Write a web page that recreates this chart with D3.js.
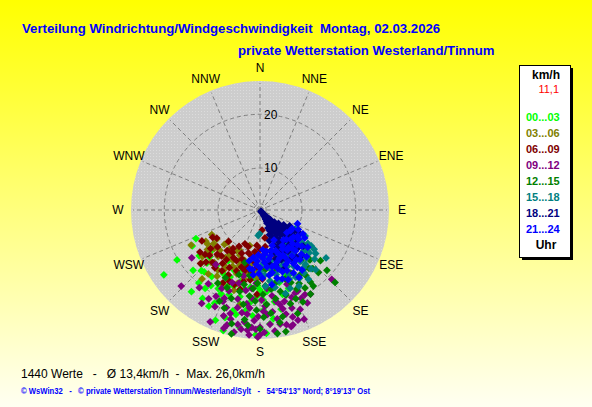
<!DOCTYPE html>
<html>
<head>
<meta charset="utf-8">
<script src="https://cdn.jsdelivr.net/npm/d3@7"></script>
<style>
body { margin: 0; overflow: hidden; background: #ffffff; }
svg { display: block; }
text { font-family: "Liberation Sans", Arial, sans-serif; }
</style>
</head>
<body>
<svg id="chart" width="592" height="407"></svg>
<script>
// # wind direction / wind speed scatter (polar)
// each point is [direction in degrees, speed in km/h], grouped by 3 hour slot

var dir_labels = ["N","NNE","NE","ENE","E","ESE","SE","SSE","S","SSW","SW","WSW","W","WNW","NW","NNW"];
var ring_values = [2, 10, 20];
var ring_labels = ["", "10", "20"];
var slot_labels = ["00...03","03...06","06...09","09...12","12...15","15...18","18...21","21...24"];
var slot_colors = ["#00ff00","#808000","#800000","#800080","#008000","#008080","#000080","#0000ff"];

var slot_00_03 = [[246,15.4],[242,16.6],[239,20.2],[236,23.5],[227,15.2],[224,18.0],[220,19.9],[216,17.6],[225,16.3],[220,21.9],
  [213,21.7],[206,21.4],[205,19.4],[193,22.0],[192,20.1],[191,17.4],[182,16.4],[197,25.2],[182,18.3],[175,23.2],
  [177,24.8],[165,18.5],[160,17.8],[182,25.0],[173,22.4],[208,22.3],[203,14.6],[191,12.3],[172,15.7],[203,17.7],
  [159,15.5],[171,19.5],[185,15.0],[195,16.0],[178,19.0],[168,21.0],[200,19.0],[210,16.0],[215,20.0],[188,21.0],
  [198,23.0],[230,14.0],[186,19.5],[175,17.5],[212,13.5],[196,14.0],
  [180,17.2],[187,16.8],[193,18.8],[199,17.3],[204,16.0],[208,18.8],[213,19.0],[218,15.5],[222,17.8],[228,19.0],
  [233,16.5],[188,14.0],[179,14.5],[170,17.0],[165,16.3],[184,21.8],[195,21.5],[202,24.0],[190,24.0],[178,20.8]];
var slot_03_06 = [[243,12.4],[243,16.7],[231,16.1],[233,14.6],[225,12.9],[214,12.5],[207,10.6],[213,14.6],[203,14.2],[197,12.1],
  [221,15.3],[213,17.0],[192,20.3],[196,9.0],[225,10.7],[197,16.6],[185,13.7],[218,11.5],[208,13.0],[200,15.0],
  [230,13.5],[237,14.0],[215,16.0],[222,14.0],[205,16.5],[190,14.5],[210,11.0],[228,17.0],[198,18.0],[186,11.0],
  [220,19.0],[236,12.0],[202,12.5],
  [195,13.5],[200,13.3],[206,14.0],[211,15.3],[216,13.3],[223,15.7],[229,14.8],[234,13.0],[240,14.0],[219,17.6],
  [207,17.8],[193,15.5],[189,12.5],[204,11.5],[212,12.3],[226,11.5],[182,15.0]];
var slot_06_09 = [[242,14.6],[237,11.9],[229,12.8],[204,9.0],[198,9.3],[213,11.7],[228,17.2],[212,15.7],[205,12.7],[174,5.4],
  [185,8.7],[170,7.2],[194,14.0],[203,16.8],[186,12.1],[194,17.5],[178,15.2],[162,11.2],[228,15.0],[220,13.5],
  [215,11.0],[208,14.5],[200,12.0],[190,11.0],[195,10.5],[218,16.0],[232,14.0],[188,15.5],[178,11.0],[172,9.0],
  [165,13.5],[225,10.5],[240,12.5],[182,18.0],[210,10.0],[198,13.5],[222,15.5],[235,16.0],[207,17.5],
  [196,12.5],[203,11.0],[209,12.5],[214,13.5],[219,12.0],[224,13.8],[231,15.5],[206,15.8],[201,14.5],[192,13.2],
  [188,14.0],[183,13.0],[180,9.5],[175,12.5],[168,11.8],[187,10.0],[193,16.0],[199,17.0],[215,14.5],[226,16.3]];
var slot_09_12 = [[226,22.4],[235,17.8],[210,21.2],[205,21.9],[196,22.1],[195,23.0],[191,23.6],[189,24.3],[186,24.3],[185,25.1],
  [181,25.4],[204,24.6],[196,24.1],[187,21.6],[202,20.5],[194,19.3],[201,18.4],[185,18.8],[181,21.9],[180,23.7],
  [176,21.6],[173,21.2],[167,21.0],[166,22.0],[167,23.8],[164,24.1],[163,22.8],[165,19.8],[157,19.0],[153,21.5],
  [152,20.0],[155,18.9],[172,18.4],[177,20.1],[170,23.5],[173,24.5],[180,25.0],[182,24.1],[165,24.3],[161,23.6],
  [158,23.8],[149,20.4],[134,20.7],[202,19.9],[207,20.2],[219,15.4],[190,17.5],[175,17.0],[183,16.0],[196,16.5],
  [188,19.8],[170,19.5],[160,17.0],[199,22.8],[215,19.0],
  [168,20.2],[171,22.5],[175,23.3],[178,21.0],[183,22.6],[186,20.5],[190,21.5],[193,20.8],[199,21.3],[197,24.8],
  [192,25.0],[188,23.0],[184,23.8],[178,24.6],[162,21.3],[158,22.0],[155,20.3],[179,19.0],[186,17.0],[194,15.0],
  [201,16.8],[206,18.5],[212,22.5],[218,20.5],[160,19.5]];
var slot_12_15 = [[128,13.2],[140,16.5],[149,20.4],[158,20.0],[168,24.9],[193,25.4],[194,23.7],[172,25.0],[134,21.5],[189,14.7],
  [176,16.5],[166,17.9],[194,17.9],[183,19.2],[154,15.4],[141,14.5],[204,20.7],[174,21.4],[188,22.6],[145,18.6],
  [135,15.5],[130,17.0],[145,19.5],[160,22.5],[170,19.0],[178,22.0],[185,17.0],[198,15.0],[210,18.0],[150,12.5],
  [165,14.0],[175,13.5],[160,16.0],[180,24.0],[200,21.5],[132,19.0],[129,12.9],[131,14.0],[135,15.2],[138,17.0],
  [145,17.2],[155,18.5],[170,23.2],[190,20.0],[182,16.0],[207,16.5],[196,12.5],
  [137,18.2],[142,16.0],[148,16.5],[152,17.8],[157,17.0],[163,18.8],[168,16.2],[172,17.2],[178,18.0],[182,20.8],
  [187,18.4],[192,16.5],[198,19.5],[203,18.0],[176,19.8],[162,20.5],[155,21.0],[186,23.5],[168,22.3],[150,19.0]];
var slot_15_18 = [[127,8.4],[118,9.6],[125,14.0],[126,14.8],[133,13.5],[126,17.5],[184,6.6],[174,10.9],[156,15.5],[152,16.5],
  [158,13.5],[181,6.2],[125,13.2],[138,13.7],[139,16.8],[145,16.6],[159,17.9],[172,15.7],[130,11.0],[135,12.0],
  [142,14.5],[148,13.0],[150,11.5],[145,10.0],[155,12.5],[162,14.0],[165,16.0],[168,12.0],[140,15.5],[132,16.0],
  [120,12.0],[138,10.5],[160,11.0],[150,17.0],[170,13.5],[178,12.5],[128,15.5],[145,18.0],[176,14.5],[163,18.5],
  [133,10.5],[128,12.3],[136,14.8],[143,15.8],[149,14.6],[154,14.0],[157,16.3],[161,12.6],[166,14.7],[169,17.0],
  [174,12.8],[143,12.5],[137,17.5],[131,14.5],[122,10.8],[153,18.2],[180,13.8],[185,11.5],[176,16.6],[147,11.8]];
var slot_18_21 = [[140,0.6],[143,1.2],[138,1.8],[146,2.2],[141,2.6],[136,3.0],[149,3.2],[143,3.6],[133,4.0],[152,4.2],
  [139,4.5],[146,4.9],[130,5.1],[156,5.3],[141,5.6],[126,6.0],[149,6.2],[135,6.6],[159,6.8],[122,7.1],
  [144,7.3],[129,7.6],[153,7.8],[163,8.0],[118,8.3],[137,8.5],[147,8.8],[124,9.1],[158,9.3],[132,9.6],
  [151,9.9],[166,10.1],[120,10.4],[141,10.7],[156,10.9],[128,11.2],[146,11.6],[162,11.9],[135,12.3],[152,12.8],
  [142,13.4],[170,12.5],[158,14.2],[131,8.0],[155,6.0],[145,3.0],[137,6.8],[150,9.0],[127,10.0],[140,8.0],
  [139,1.0],[144,1.6],[141,2.0],[137,2.4],[147,2.8],[140,3.3],[134,3.5],[150,3.8],[142,4.2],[136,4.7],
  [148,5.0],[133,5.5],[144,5.9],[152,5.6],[128,6.4],[140,6.3],[146,6.9],[131,7.0],[156,7.2],[125,7.8],
  [140,7.6],[149,8.2],[134,8.9],[121,9.5],[143,9.4],[155,9.8],[136,10.2],[161,10.6],[124,10.8],[148,10.4],
  [133,11.4],[152,11.3],[139,11.8],[157,12.4],[130,12.8],[147,13.1],[164,13.0],[137,13.8]];
var slot_21_24 = [[110,9.6],[117,10.2],[124,9.0],[127,11.3],[131,12.6],[134,10.1],[137,13.6],[140,11.5],[142,9.2],[145,12.7],
  [148,14.1],[150,10.6],[152,12.2],[155,13.6],[157,11.1],[160,14.6],[162,12.5],[164,10.1],[166,15.4],[168,13.1],
  [170,11.6],[172,14.6],[175,12.1],[178,15.0],[180,13.1],[184,12.5],[188,11.2],[176,9.6],[161,9.1],[152,15.6],
  [145,16.0],[135,14.6],[128,13.6],[122,12.1],[130,8.6],[155,8.2],[171,16.4],[182,10.6],[190,13.4],[148,10.0],
  [158,12.0],[165,13.0],[143,11.0],[138,9.5],[174,10.5],[186,14.5],
  [133,11.8],[139,12.4],[146,11.3],[151,13.2],[156,14.7],[163,13.8],[169,14.2],[173,13.0],[177,11.2],[181,14.2],
  [159,10.3],[153,11.7],[147,15.1],[141,14.2],[136,11.0],[129,10.2],[125,10.8],[119,11.4],[162,15.8],[167,11.0],
  [183,11.8],[187,13.5],[158,16.3],[150,16.8],[192,12.0],[171,10.0],[144,13.8],[120,9.0]];
var slots = [slot_00_03, slot_03_06, slot_06_09, slot_09_12, slot_12_15, slot_15_18, slot_18_21, slot_21_24];

var title_text = "Verteilung Windrichtung/Windgeschwindigkeit  Montag, 02.03.2026";
var subtitle_text = "private Wetterstation Westerland/Tinnum";
var stats_text = "1440 Werte   -   \u00d8 13,4km/h  -  Max. 26,0km/h";
var footer_text = "\u00a9 WsWin32   -   \u00a9 private Wetterstation Tinnum/Westerland/Sylt   -   54\u00b054'13\" Nord; 8\u00b019'13\" Ost";
var legend_value = "11,1";

// geometry of the rose
var cx = 260, cy = 210, outer_r = 129, label_r = 142;

var angle = d3.scaleLinear().domain([0, 360]).range([0, 2 * Math.PI]);
var radius = d3.scalePow().exponent(1.19).domain([0, 25.7]).range([0, outer_r]);

function px(dir, r){ return cx + r * Math.sin(angle(dir)); }
function py(dir, r){ return cy - r * Math.cos(angle(dir)); }

var svg = d3.select("#chart");
var defs = svg.append("defs");

// yellow background fading to white
var grad = defs.append("linearGradient").attr("id", "bg_grad")
  .attr("x1", 0).attr("y1", 0).attr("x2", 0).attr("y2", 1);
grad.append("stop").attr("offset", 0).attr("stop-color", "#ffff00");
grad.append("stop").attr("offset", 1).attr("stop-color", "#fffff2");

// dotted grey of the rose
var pat = defs.append("pattern").attr("id", "dots").attr("patternUnits", "userSpaceOnUse")
  .attr("width", 3).attr("height", 3);
pat.append("rect").attr("width", 3).attr("height", 3).attr("fill", "#cdcdcd");
pat.append("rect").attr("width", 1).attr("height", 1).attr("fill", "#dcdcdc");

svg.append("rect").attr("width", 592).attr("height", 407).attr("fill", "url(#bg_grad)");

// titles
svg.append("text").attr("x", 22).attr("y", 33)
  .attr("fill", "#0000ff").attr("font-weight", "bold").attr("font-size", 13.2)
  .attr("xml:space", "preserve").text(title_text);
svg.append("text").attr("x", 238).attr("y", 55)
  .attr("fill", "#0000ff").attr("font-weight", "bold").attr("font-size", 13.2)
  .text(subtitle_text);

// ### rose background, rings and spokes
var rose = svg.append("g");
rose.append("circle").attr("cx", cx).attr("cy", cy).attr("r", outer_r).attr("fill", "url(#dots)");

rose.selectAll(".ring").data(ring_values).enter().append("circle")
  .attr("class", "ring")
  .attr("cx", cx).attr("cy", cy)
  .attr("r", function(d){ return radius(d); })
  .attr("fill", "none").attr("stroke", "#7f7f7f").attr("stroke-dasharray", "4,3");

rose.selectAll(".spoke").data(dir_labels).enter().append("line")
  .attr("class", "spoke")
  .attr("x1", cx).attr("y1", cy)
  .attr("x2", function(d, i){ return px(i * 22.5, outer_r - 2); })
  .attr("y2", function(d, i){ return py(i * 22.5, outer_r - 2); })
  .attr("stroke", "#7f7f7f").attr("stroke-dasharray", "4,3");

rose.selectAll(".dir_label").data(dir_labels).enter().append("text")
  .attr("class", "dir_label")
  .attr("x", function(d, i){ return px(i * 22.5, label_r); })
  .attr("y", function(d, i){ return py(i * 22.5, label_r); })
  .attr("text-anchor", "middle").attr("dy", "0.36em")
  .attr("font-size", 12).attr("fill", "#000")
  .text(function(d){ return d; });

// ### the points, one layer per time slot
var diamond = d3.symbol().type(d3.symbolSquare).size(30);
slots.forEach(function(slot, k){
  svg.append("g").selectAll("path").data(slot).enter().append("path")
    .attr("d", diamond)
    .attr("transform", function(d){
      var r = radius(d[1]);
      return "translate(" + px(d[0], r) + "," + py(d[0], r) + ") rotate(45)";
    })
    .attr("fill", slot_colors[k]);
});

// ring labels on top of the points
rose.selectAll(".ring_label").data(ring_values).enter().append("text")
  .attr("class", "ring_label")
  .attr("x", cx + 4)
  .attr("y", function(d){ return cy - radius(d); })
  .attr("dy", "0.36em")
  .attr("font-size", 12).attr("fill", "#000")
  .text(function(d, i){ return ring_labels[i]; });

// ### legend box
var lg = svg.append("g");
lg.append("rect").attr("x", 522).attr("y", 68).attr("width", 51).attr("height", 192).attr("fill", "#000");
lg.append("rect").attr("x", 519.5).attr("y", 65.5).attr("width", 51).attr("height", 192)
  .attr("fill", "#fff").attr("stroke", "#000");
lg.append("text").attr("x", 546).attr("y", 79).attr("text-anchor", "middle")
  .attr("font-weight", "bold").attr("font-size", 12).text("km/h");
lg.append("text").attr("x", 559).attr("y", 93).attr("text-anchor", "end")
  .attr("font-size", 11).attr("fill", "#ff0000").text(legend_value);
lg.selectAll(".slot").data(slot_labels).enter().append("text")
  .attr("class", "slot")
  .attr("x", 526)
  .attr("y", function(d, i){ return 121 + i * 16; })
  .attr("font-weight", "bold").attr("font-size", 11)
  .attr("fill", function(d, i){ return slot_colors[i]; })
  .text(function(d){ return d; });
lg.append("text").attr("x", 546).attr("y", 249).attr("text-anchor", "middle")
  .attr("font-weight", "bold").attr("font-size", 12).text("Uhr");

// ### bottom lines
svg.append("text").attr("x", 21).attr("y", 378)
  .attr("font-size", 12).attr("fill", "#000")
  .attr("xml:space", "preserve").text(stats_text);
svg.append("text").attr("x", 21).attr("y", 394)
  .attr("font-size", 8.5).attr("font-weight", "bold").attr("fill", "#0000ff")
  .attr("textLength", 349).attr("lengthAdjust", "spacingAndGlyphs")
  .attr("xml:space", "preserve").text(footer_text);
</script>
</body>
</html>
